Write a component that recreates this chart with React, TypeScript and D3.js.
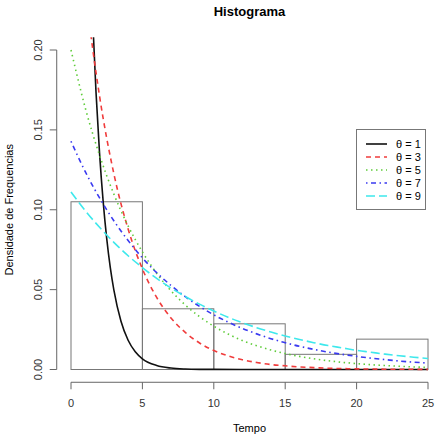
import React, { useRef, useEffect } from "react";
import * as d3 from "d3";

// histogram bins (Tempo) and densities
const binEdges = [0, 5, 10, 15, 20, 25];
const binDensity = [0.105, 0.038, 0.0286, 0.0095, 0.019];

const yTicks = [0, 0.05, 0.1, 0.15, 0.2];
const xTicks = [0, 5, 10, 15, 20, 25];

// curve points
const xGrid = [0, 1, 2, 3, 4, 5, 6, 7, 8, 9, 10, 11, 12, 13, 14, 15, 16, 17, 18, 19, 20, 21, 22, 23, 24, 25];
const xTheta1 = [0, 1, 1.25, 1.5, 1.75, 2, 2.25, 2.5, 2.75, 3, 3.5, 4, 4.5, 5, 6, 7, 8, 9, 10, 12, 15, 20, 25];
const dens1 = [1, 0.3679, 0.2865, 0.2231, 0.1738, 0.1353, 0.1054, 0.0821, 0.0639, 0.0498, 0.0302, 0.0183, 0.0111, 0.0067, 0.0025, 0.0009, 0.0003, 0.0001, 0.00005, 0, 0, 0, 0];
const dens3 = [0.3333, 0.2388, 0.1711, 0.1226, 0.0879, 0.063, 0.0451, 0.0323, 0.0232, 0.0166, 0.0119, 0.0085, 0.0061, 0.0044, 0.0031, 0.0023, 0.0016, 0.0012, 0.0008, 0.0006, 0.0004, 0.0003, 0.0002, 0.00016, 0.00011, 0.00008];
const dens5 = [0.2, 0.1637, 0.1341, 0.1098, 0.0899, 0.0736, 0.0602, 0.0493, 0.0404, 0.0331, 0.0271, 0.0222, 0.0181, 0.0149, 0.0122, 0.01, 0.0082, 0.0067, 0.0055, 0.0045, 0.0037, 0.003, 0.0025, 0.002, 0.0016, 0.0013];
const dens7 = [0.1429, 0.1238, 0.1074, 0.0931, 0.0807, 0.0699, 0.0606, 0.0526, 0.0456, 0.0395, 0.0342, 0.0297, 0.0257, 0.0223, 0.0193, 0.0168, 0.0145, 0.0126, 0.0109, 0.0095, 0.0082, 0.0071, 0.0062, 0.0053, 0.0046, 0.004];
const dens9 = [0.1111, 0.0994, 0.089, 0.0796, 0.0712, 0.0638, 0.057, 0.051, 0.0457, 0.0409, 0.0366, 0.0327, 0.0293, 0.0262, 0.0235, 0.021, 0.0188, 0.0168, 0.015, 0.0135, 0.012, 0.0108, 0.0096, 0.0086, 0.0077, 0.0069];

const legendLabels = ["θ = 1", "θ = 3", "θ = 5", "θ = 7", "θ = 9"];

export default function App() {
  const svgRef = useRef<SVGSVGElement>(null);

  useEffect(() => {
    const width = 436;
    const height = 437;
    const svg = d3.select(svgRef.current).attr("width", width).attr("height", height);
    svg.selectAll("*").remove();

    const font = "Liberation Sans, Arial, Helvetica, sans-serif";
    const axisColor = "#666";

    const x = d3.scaleLinear().domain([0, 25]).range([71, 428]);
    const y = d3.scaleLinear().domain([0, 0.2]).range([369.5, 50]);

    // plot region, R style 4% padding
    svg.append("defs").append("clipPath").attr("id", "plotclip")
      .append("rect")
      .attr("x", x(-1)).attr("y", y(0.208))
      .attr("width", x(26) - x(-1)).attr("height", y(-0.008) - y(0.208));

    // title
    svg.append("text")
      .attr("x", 249.5).attr("y", 16)
      .attr("text-anchor", "middle")
      .style("font-family", font).style("font-size", "13px").style("font-weight", "bold")
      .text("Histograma");

    // y axis
    const yAxisX = x(-1);
    svg.append("line")
      .attr("x1", yAxisX).attr("x2", yAxisX)
      .attr("y1", y(0)).attr("y2", y(0.2))
      .attr("stroke", axisColor);
    yTicks.forEach((t) => {
      svg.append("line")
        .attr("x1", yAxisX - 7).attr("x2", yAxisX)
        .attr("y1", y(t)).attr("y2", y(t))
        .attr("stroke", axisColor);
      svg.append("text")
        .attr("transform", `translate(${yAxisX - 15},${y(t)}) rotate(-90)`)
        .attr("text-anchor", "middle")
        .attr("fill", "#333")
        .style("font-family", font).style("font-size", "11px")
        .text(d3.format(".2f")(t));
    });

    // x axis
    const xAxisY = y(-0.008);
    svg.append("line")
      .attr("x1", x(0)).attr("x2", x(25))
      .attr("y1", xAxisY).attr("y2", xAxisY)
      .attr("stroke", axisColor);
    xTicks.forEach((t) => {
      svg.append("line")
        .attr("x1", x(t)).attr("x2", x(t))
        .attr("y1", xAxisY).attr("y2", xAxisY + 7)
        .attr("stroke", axisColor);
      svg.append("text")
        .attr("x", x(t)).attr("y", xAxisY + 25)
        .attr("text-anchor", "middle")
        .attr("fill", "#333")
        .style("font-family", font).style("font-size", "11px")
        .text(t);
    });

    // axis titles
    svg.append("text")
      .attr("x", 249.5).attr("y", 432)
      .attr("text-anchor", "middle")
      .style("font-family", font).style("font-size", "11px")
      .text("Tempo");
    svg.append("text")
      .attr("transform", `translate(13,${(y(0) + y(0.2)) / 2}) rotate(-90)`)
      .attr("text-anchor", "middle")
      .style("font-family", font).style("font-size", "11px")
      .text("Densidade de Frequencias");

    // histogram
    svg.append("g")
      .selectAll("rect")
      .data(binDensity)
      .join("rect")
      .attr("x", (_, i) => x(binEdges[i]))
      .attr("y", (d) => y(d))
      .attr("width", (_, i) => x(binEdges[i + 1]) - x(binEdges[i]))
      .attr("height", (d) => y(0) - y(d))
      .attr("fill", "none")
      .attr("stroke", "#777")
      .attr("stroke-width", 1);

    const series = [
      { xs: xTheta1, ys: dens1, color: "#111", dash: null },
      { xs: xGrid, ys: dens3, color: "#f03c3c", dash: "5,4" },
      { xs: xGrid, ys: dens5, color: "#5fcc3a", dash: "1.5,3.5" },
      { xs: xGrid, ys: dens7, color: "#3a3af0", dash: "1.5,3.5,5,3.5" },
      { xs: xGrid, ys: dens9, color: "#3ee8ec", dash: "9,4" },
    ];

    const line = d3.line<[number, number]>()
      .x((d) => x(d[0]))
      .y((d) => y(d[1]))
      .curve(d3.curveMonotoneX);

    const curves = svg.append("g").attr("clip-path", "url(#plotclip)");
    series.forEach((s) => {
      const pts = s.xs.map((v, i) => [v, s.ys[i]] as [number, number]);
      curves.append("path")
        .datum(pts)
        .attr("d", line)
        .attr("fill", "none")
        .attr("stroke", s.color)
        .attr("stroke-width", 1.6)
        .attr("stroke-dasharray", s.dash);
    });

    // legend
    const lg = svg.append("g");
    lg.append("rect")
      .attr("x", 356.5).attr("y", 129.5)
      .attr("width", 69).attr("height", 80)
      .attr("fill", "white")
      .attr("stroke", "#777");
    series.forEach((s, i) => {
      const ly = 144 + i * 13;
      lg.append("line")
        .attr("x1", 366).attr("x2", 387)
        .attr("y1", ly).attr("y2", ly)
        .attr("stroke", s.color)
        .attr("stroke-width", 1.6)
        .attr("stroke-dasharray", s.dash);
      lg.append("text")
        .attr("x", 396).attr("y", ly + 4)
        .style("font-family", font).style("font-size", "11px")
        .text(legendLabels[i]);
    });
  }, []);

  return (
    <svg
      ref={svgRef}
      style={{ position: "absolute", left: 0, top: 0, background: "white" }}
    />
  );
}
